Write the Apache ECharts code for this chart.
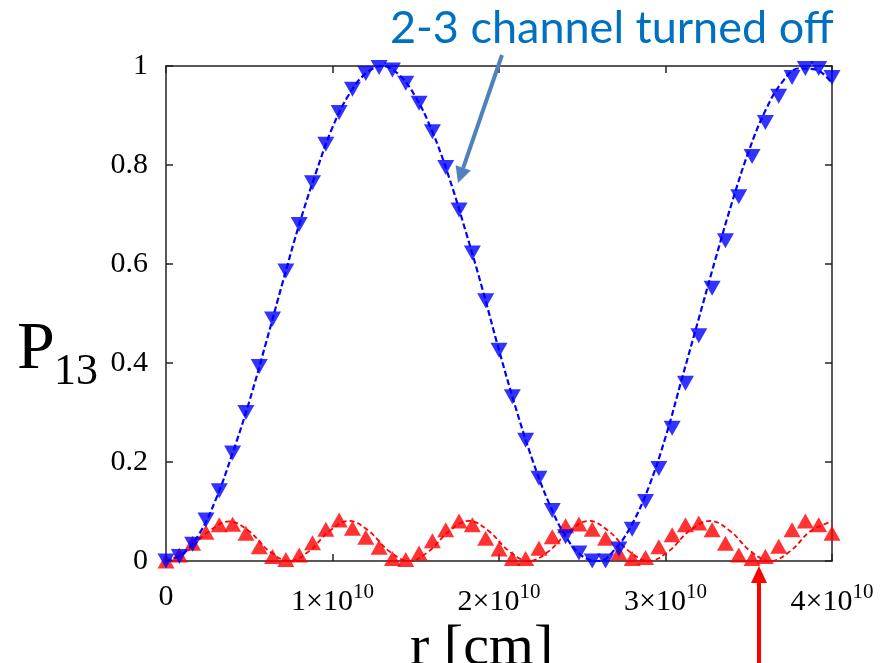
<!DOCTYPE html>
<html>
<head>
<meta charset="utf-8">
<script src="https://cdn.jsdelivr.net/npm/echarts@6/dist/echarts.min.js"></script>
<style>
html,body{margin:0;padding:0;background:#fff;}
#chart{width:882px;height:663px;}
</style>
</head>
<body>
<div id="chart"></div>
<script>
// r values in units of 1e10 cm
const markerR = [0,0.08,0.16,0.24,0.32,0.40,0.48,0.56,0.64,0.72,0.80,0.88,0.96,1.04,1.12,1.20,1.28,1.36,1.44,1.52,1.60,1.68,1.76,1.84,1.92,2.00,2.08,2.16,2.24,2.32,2.40,2.48,2.56,2.64,2.72,2.80,2.88,2.96,3.04,3.12,3.20,3.28,3.36,3.44,3.52,3.60,3.68,3.76,3.84,3.92,4.00];
// P13 with 2-3 channel turned off (blue, down triangles)
const blueMarkerP = [0.0,0.009,0.034,0.083,0.142,0.218,0.300,0.393,0.489,0.586,0.680,0.764,0.842,0.906,0.953,0.985,0.997,0.992,0.965,0.925,0.867,0.795,0.709,0.622,0.526,0.426,0.332,0.244,0.167,0.102,0.049,0.016,0.0,0.0,0.024,0.064,0.120,0.187,0.268,0.359,0.455,0.551,0.647,0.736,0.817,0.886,0.939,0.977,0.995,0.995,0.977];
// P13 full (red, up triangles)
const redMarkerP = [0.0,0.012,0.036,0.058,0.073,0.074,0.056,0.029,0.009,0.003,0.012,0.037,0.064,0.083,0.066,0.048,0.028,0.005,0.003,0.016,0.041,0.063,0.081,0.073,0.046,0.024,0.005,0.005,0.026,0.049,0.071,0.075,0.064,0.046,0.016,0.005,0.007,0.029,0.053,0.073,0.077,0.063,0.036,0.012,0.005,0.009,0.030,0.063,0.081,0.073,0.056];
// dashed curves
const blueLineR = [0,0.1,0.2,0.3,0.4,0.5,0.6,0.7,0.8,0.9,1.0,1.1,1.2,1.3,1.4,1.5,1.6,1.7,1.8,1.9,2.0,2.1,2.2,2.3,2.4,2.5,2.6,2.7,2.8,2.9,3.0,3.1,3.2,3.3,3.4,3.5,3.6,3.7,3.8,3.9,4.0];
const blueLineP = [0,0.014,0.055,0.125,0.218,0.322,0.44,0.562,0.68,0.784,0.876,0.943,0.985,1.0,0.982,0.937,0.867,0.775,0.666,0.55,0.426,0.31,0.205,0.117,0.05,0.01,0.0,0.025,0.075,0.15,0.25,0.37,0.49,0.61,0.725,0.828,0.91,0.967,0.995,0.993,0.965];
const redLineR = [0,0.12,0.25,0.38,0.50,0.62,0.74,0.86,0.98,1.10,1.22,1.34,1.46,1.58,1.70,1.82,1.94,2.06,2.18,2.30,2.42,2.54,2.66,2.78,2.90,3.02,3.14,3.27,3.39,3.51,3.63,3.75,3.87,4.0];
const redLineP = [0,0.018,0.058,0.080,0.060,0.020,0,0.020,0.060,0.081,0.060,0.020,0,0.020,0.060,0.081,0.060,0.020,0,0.020,0.060,0.081,0.060,0.020,0,0.020,0.060,0.081,0.060,0.020,0,0.020,0.060,0.080];

const zip = (a,b) => a.map((v,i)=>[v,b[i]]);
const chart = echarts.init(document.getElementById('chart'), null, {renderer:'canvas'});
const serif = 'Liberation Serif';
const frameColor = '#222';
const frameAxis = (extra) => Object.assign({
  type:'value',
  axisLine:{show:true,onZero:false,lineStyle:{color:frameColor,width:1.5}},
  axisTick:{show:true,inside:true,length:7,lineStyle:{color:frameColor,width:1.5}},
  splitLine:{show:false}
}, extra);
const option = {
  animation:false,
  backgroundColor:'#fff',
  grid:{left:166,right:50,top:66,bottom:102,containLabel:false,outerBoundsMode:'none'},
  xAxis:[
    frameAxis({min:0,max:4,interval:1,position:'bottom',
      axisLabel:{margin:21,color:'#000',fontFamily:serif,fontSize:30,
        formatter:v => v===0 ? '{n|0}' : '{n|'+v+'×10}{s|10}',
        rich:{n:{fontFamily:serif,fontSize:30,color:'#000'},s:{fontFamily:serif,fontSize:21,color:'#000',padding:[0,0,19,0]}}}}),
    frameAxis({min:0,max:4,interval:1,position:'top',axisLabel:{show:false}})
  ],
  yAxis:[
    frameAxis({min:0,max:1,interval:0.2,position:'left',
      axisLabel:{margin:18,color:'#000',fontFamily:serif,fontSize:30}}),
    frameAxis({min:0,max:1,interval:0.2,position:'right',axisLabel:{show:false}})
  ],
  series:[
    {type:'line',name:'red curve',data:zip(redLineR,redLineP),smooth:0.4,showSymbol:false,
     lineStyle:{color:'#ff0000',width:1.8,type:[5,3]},z:2},
    {type:'scatter',name:'red points',data:zip(markerR,redMarkerP),symbol:'triangle',symbolSize:[17,15],
     itemStyle:{color:'#ff0000'},clip:false,z:3},
    {type:'line',name:'blue curve',data:zip(blueLineR,blueLineP),smooth:0.4,showSymbol:false,
     lineStyle:{color:'#0000ff',width:2.2,type:[6,3]},z:4},
    {type:'scatter',name:'blue points',data:zip(markerR,blueMarkerP),symbol:'triangle',symbolRotate:180,symbolSize:[17,15],
     itemStyle:{color:'#0000ff'},clip:false,z:5}
  ],
  graphic:[
    {type:'text',x:410,y:620,style:{text:'r [cm]',fontFamily:serif,fontSize:58,fill:'#000',verticalAlign:'top'},z:10},
    {type:'text',x:17,y:384,style:{text:'P',fontFamily:serif,fontSize:68,fill:'#000',verticalAlign:'bottom'},z:10},
    {type:'text',x:54,y:394,style:{text:'13',fontFamily:serif,fontSize:44,fill:'#000',verticalAlign:'bottom'},z:10},
    {type:'text',left:390,top:6,style:{text:'2-3 channel turned off',fontFamily:'Lato',fontSize:45,fill:'#0070c0'},z:10},
    {type:'line',shape:{x1:502,y1:55,x2:463.2,y2:167.8},style:{stroke:'#4f81bd',lineWidth:4},z:10},
    {type:'polygon',shape:{points:[[458,183],[470.8,170.4],[455.6,165.2]]},style:{fill:'#4f81bd'},z:10},
    {type:'line',shape:{x1:759,y1:663,x2:759,y2:580},style:{stroke:'#ff0000',lineWidth:4},z:10},
    {type:'polygon',shape:{points:[[759,566],[751,583],[767,583]]},style:{fill:'#ff0000'},z:10}
  ]
};
chart.setOption(option);
</script>
</body>
</html>
